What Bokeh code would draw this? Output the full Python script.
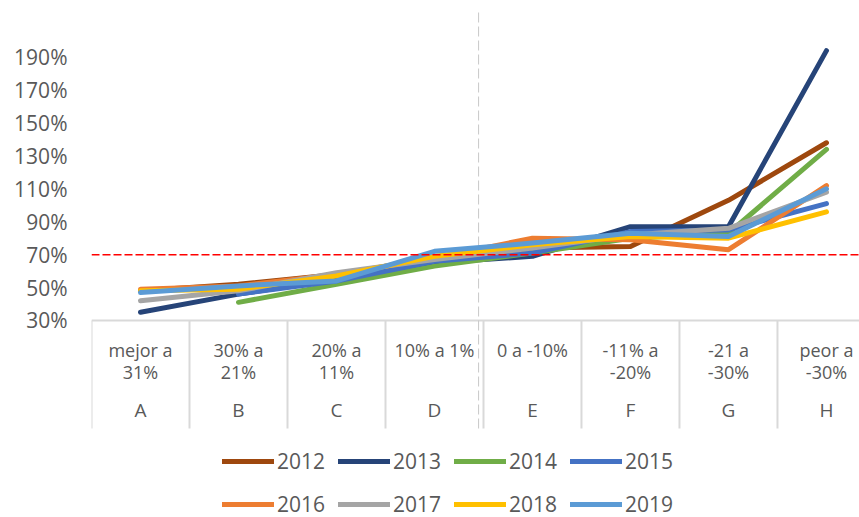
import numpy as np
from bokeh.plotting import figure
from bokeh.models import (ColumnDataSource, Legend, LegendItem, FixedTicker,
                          PrintfTickFormatter, Range1d, Span)
from bokeh.core.properties import value
from bokeh.embed import file_html
from bokeh.resources import INLINE

# ---- data ----
letters = ["A", "B", "C", "D", "E", "F", "G", "H"]
range_labels = [["mejor a", "31%"], ["30% a", "21%"], ["20% a", "11%"], ["10% a 1%"],
                ["0 a -10%"], ["-11% a", "-20%"], ["-21 a", "-30%"], ["peor a", "-30%"]]
years = ["2012", "2013", "2014", "2015", "2016", "2017", "2018", "2019"]
nan = float("nan")
v2012 = [48, 52, 58, 65, 74, 75, 103, 138]
v2013 = [35, 46, 55, 65, 69, 87, 87, 194]
v2014 = [nan, 41, 52, 63, 71, 80, 83, 134]
v2015 = [nan, 46, 54, 66, 71, 84, 85, 101]
v2016 = [49, 51, 58, 68, 80, 79, 73, 112]
v2017 = [42, 48, 59, 67, 74, 82, 86, 108]
v2018 = [48, 49, 57, 69, 76, 81, 80, 96]
v2019 = [47, 51, 54, 72, 77, 83, 81, 110]
series = [v2012, v2013, v2014, v2015, v2016, v2017, v2018, v2019]
colors = ["#9E480E", "#264478", "#70AD47", "#4472C4", "#ED7D31", "#A5A5A5", "#FFC000", "#5B9BD5"]
y_ticks = [30, 50, 70, 90, 110, 130, 150, 170, 190]
reference_level = 70

FONT = "Open Sans"
TXT = "#595959"

p = figure(width=859, height=517, output_backend="svg", toolbar_location=None,
           x_range=Range1d(0, 7.837), y_range=Range1d(-89.8, 217.8),
           min_border_left=91, min_border_right=0, min_border_top=11, min_border_bottom=0)
p.outline_line_color = None
p.xgrid.visible = False
p.ygrid.visible = False
p.xaxis.visible = False
p.background_fill_color = "white"
p.border_fill_color = "white"

ax = p.yaxis[0]
ax.ticker = FixedTicker(ticks=y_ticks)
ax.formatter = PrintfTickFormatter(format="%d%%")
ax.axis_line_color = None
ax.major_tick_line_color = None
ax.minor_tick_line_color = None
ax.major_label_standoff = 18
ax.major_label_text_font = FONT
ax.major_label_text_font_size = "21px"
ax.major_label_text_color = TXT

# category table (axis drawn manually)
n = len(letters)
axis_y0 = y_ticks[0]
axis_bottom = -35.7
p.segment(x0=[0], y0=[axis_y0], x1=[7.837], y1=[axis_y0], line_color="#D9D9D9", line_width=2)
p.segment(x0=list(range(n + 1)), y0=[axis_y0] * (n + 1), x1=list(range(n + 1)),
          y1=[axis_bottom] * (n + 1), line_color="#D9D9D9", line_width=2)

tx, ty, tt = [], [], []
for i, lines in enumerate(range_labels):
    for j, t in enumerate(lines):
        tx.append(i + 0.5)
        ty.append(11.8 - j * 13.4)
        tt.append(t)
p.text(x=tx, y=ty, text=tt, text_align="center", text_baseline="middle",
       text_font=value(FONT), text_font_size="18px", text_color=TXT)
p.text(x=[i + 0.5 for i in range(n)], y=[-24.7] * n, text=letters, text_align="center",
       text_baseline="middle", text_font=value(FONT), text_font_size="19px", text_color=TXT)

# reference lines
p.add_layout(Span(location=reference_level, dimension="width", line_color="#FF0000",
                  line_width=1.5, line_dash="8 3"))
p.segment(x0=[3.95], y0=[axis_bottom], x1=[3.95], y1=[217.2], line_color="#C8C8C8",
          line_width=1, line_dash="10 4")

# series
xs = [i + 0.5 for i in range(n)]
items = []
for yr, vals, c in zip(years, series, colors):
    src = ColumnDataSource(dict(x=xs, y=vals))
    r = p.line("x", "y", source=src, line_color=c, line_width=5,
               line_cap="round", line_join="round")
    items.append(LegendItem(label=yr, renderers=[r]))

legend = Legend(items=items, orientation="horizontal", ncols=4, location=(131, -2),
                label_text_font=FONT, label_text_font_size="21px", label_text_color=TXT,
                glyph_width=52, glyph_height=30, label_height=30, label_standoff=3,
                spacing=13, padding=0, margin=0, border_line_color=None,
                background_fill_alpha=0)
p.add_layout(legend)

open("out.html", "w").write(file_html(p, INLINE))
